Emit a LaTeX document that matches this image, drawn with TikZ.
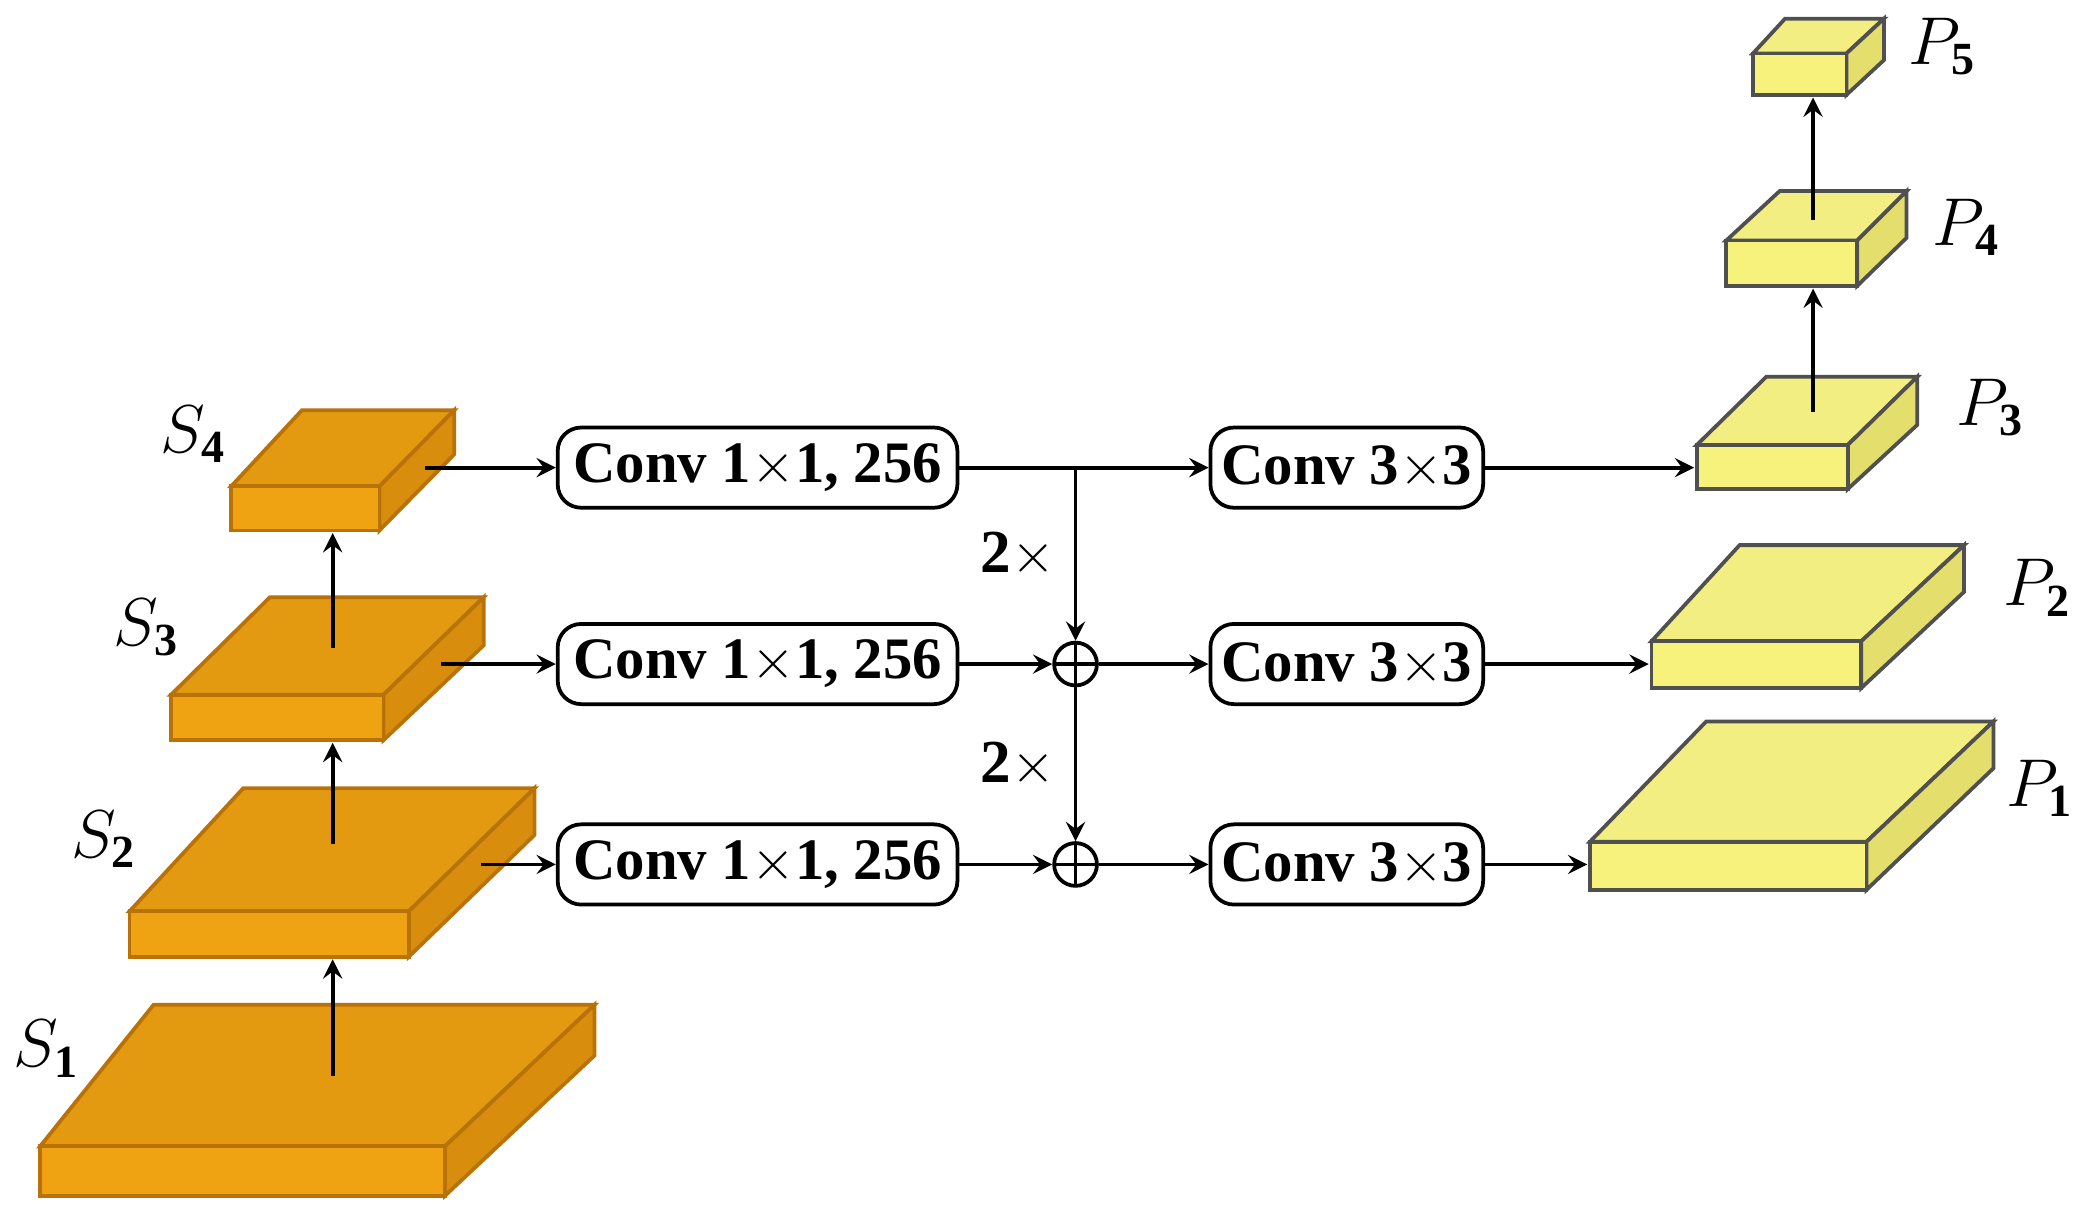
\documentclass[tikz,border=0pt]{standalone}
\usepackage{fontspec}
\setmainfont{Liberation Serif}
\begin{document}
\begin{tikzpicture}[x=0.01cm,y=-0.01cm,
  conv/.style={draw,thick,rounded corners=5pt,minimum height=0.6cm,inner sep=1pt,font=\fontsize{12.5}{14}\bfseries\selectfont},
  arr/.style={thick,-stealth},
  lab/.style={font=\fontsize{14}{16}\selectfont},
  plus/.style={draw,thick,circle,minimum size=0.32cm,inner sep=0pt,path picture={\draw[thick] (path picture bounding box.north)--(path picture bounding box.south) (path picture bounding box.west)--(path picture bounding box.east);}}]
\definecolor{oT}{HTML}{E39A10}\definecolor{oF}{HTML}{F0A312}\definecolor{oS}{HTML}{D88E0C}\definecolor{oE}{HTML}{B87208}
\definecolor{yT}{HTML}{F2EE82}\definecolor{yF}{HTML}{F6F27C}\definecolor{yS}{HTML}{E4DE6C}\definecolor{yE}{HTML}{505050}
\useasboundingbox (0,0) rectangle (1568,918);
% #1 x1 #2 x2 #3 yt #4 yb #5 xb1 #6 xb2 #7 yback #8 side bottom #9 colour prefix
\newcommand\cub[9]{%
 \draw[#9E,thick,fill=#9T] (#1,#3)--(#2,#3)--(#6,#7)--(#5,#7)--cycle;
 \draw[#9E,thick,fill=#9S] (#2,#3)--(#6,#7)--(#6,#8)--(#2,#4)--cycle;
 \draw[#9E,thick,fill=#9F] (#1,#3) rectangle (#2,#4);}
\cub{30}{333}{858}{895}{115}{445}{752}{790}{o}
\cub{97}{306}{682}{716}{182}{400}{590}{625}{o}
\cub{128}{287}{520}{554}{202}{362}{447}{483}{o}
\cub{173}{284}{364}{397}{226}{340}{307}{340}{o}
\cub{1190}{1397}{630}{666}{1277}{1492}{540}{575}{y}
\cub{1236}{1393}{480}{515}{1302}{1470}{408}{443}{y}
\cub{1270}{1383}{333}{366}{1322}{1435}{282}{318}{y}
\cub{1292}{1390}{180}{214}{1332}{1427}{143}{178}{y}
\cub{1312}{1382}{40}{71}{1336}{1410}{14}{45}{y}
\node[lab] at (35,785) {$S_{\mathbf 1}$};
\node[lab] at (78,628) {$S_{\mathbf 2}$};
\node[lab] at (110,470) {$S_{\mathbf 3}$};
\node[lab] at (145,325) {$S_{\mathbf 4}$};
\node[lab] at (1527,590) {$P_{\mathbf 1}$};
\node[lab] at (1525,440) {$P_{\mathbf 2}$};
\node[lab] at (1490,305) {$P_{\mathbf 3}$};
\node[lab] at (1472,170) {$P_{\mathbf 4}$};
\node[lab] at (1454,35) {$P_{\mathbf 5}$};
% vertical arrows
\coordinate (s1t) at (249,805); \coordinate (s2b) at (249,718);
\coordinate (s2t) at (249,632); \coordinate (s3b) at (249,556);
\coordinate (s3t) at (249,485); \coordinate (s4b) at (249,399);
\coordinate (p3t) at (1357,308); \coordinate (p4b) at (1357,216);
\coordinate (p4t) at (1357,165); \coordinate (p5b) at (1357,73);
\draw[arr] (s1t)--(s2b); \draw[arr] (s2t)--(s3b); \draw[arr] (s3t)--(s4b);
\draw[arr] (p3t)--(p4b); \draw[arr] (p4t)--(p5b);
% boxes
\node[conv,minimum width=2.99cm] (c1a) at (567,350) {Conv 1$\times$1, 256};
\node[conv,minimum width=2.99cm] (c1b) at (567,497) {Conv 1$\times$1, 256};
\node[conv,minimum width=2.99cm] (c1c) at (567,647) {Conv 1$\times$1, 256};
\node[conv,minimum width=2.04cm] (c3a) at (1008,350) {Conv 3$\times$3};
\node[conv,minimum width=2.04cm] (c3b) at (1008,497) {Conv 3$\times$3};
\node[conv,minimum width=2.04cm] (c3c) at (1008,647) {Conv 3$\times$3};
\node[plus] (pb) at (805,497) {};
\node[plus] (pc) at (805,647) {};
\coordinate (s4o) at (318,350); \coordinate (s3o) at (330,497); \coordinate (s2o) at (360,647);
\coordinate (p3i) at (1268,350); \coordinate (p2i) at (1234,497); \coordinate (p1i) at (1188,647);
\coordinate (j) at (805,350);
\draw[arr] (s4o)--(c1a); \draw[arr] (s3o)--(c1b); \draw[arr] (s2o)--(c1c);
\draw[arr] (c1a)--(c3a); \draw[arr] (c1b)--(pb); \draw[arr] (c1c)--(pc);
\draw[arr] (pb)--(c3b); \draw[arr] (pc)--(c3c);
\draw[arr] (j)--(pb); \draw[arr] (pb)--(pc);
\draw[arr] (c3a)--(p3i); \draw[arr] (c3b)--(p2i); \draw[arr] (c3c)--(p1i);
\node[font=\fontsize{13}{15}\bfseries\selectfont] (m1) at (762,415) {2$\times$};
\node[font=\fontsize{13}{15}\bfseries\selectfont] (m2) at (762,572) {2$\times$};
\end{tikzpicture}
\end{document}
